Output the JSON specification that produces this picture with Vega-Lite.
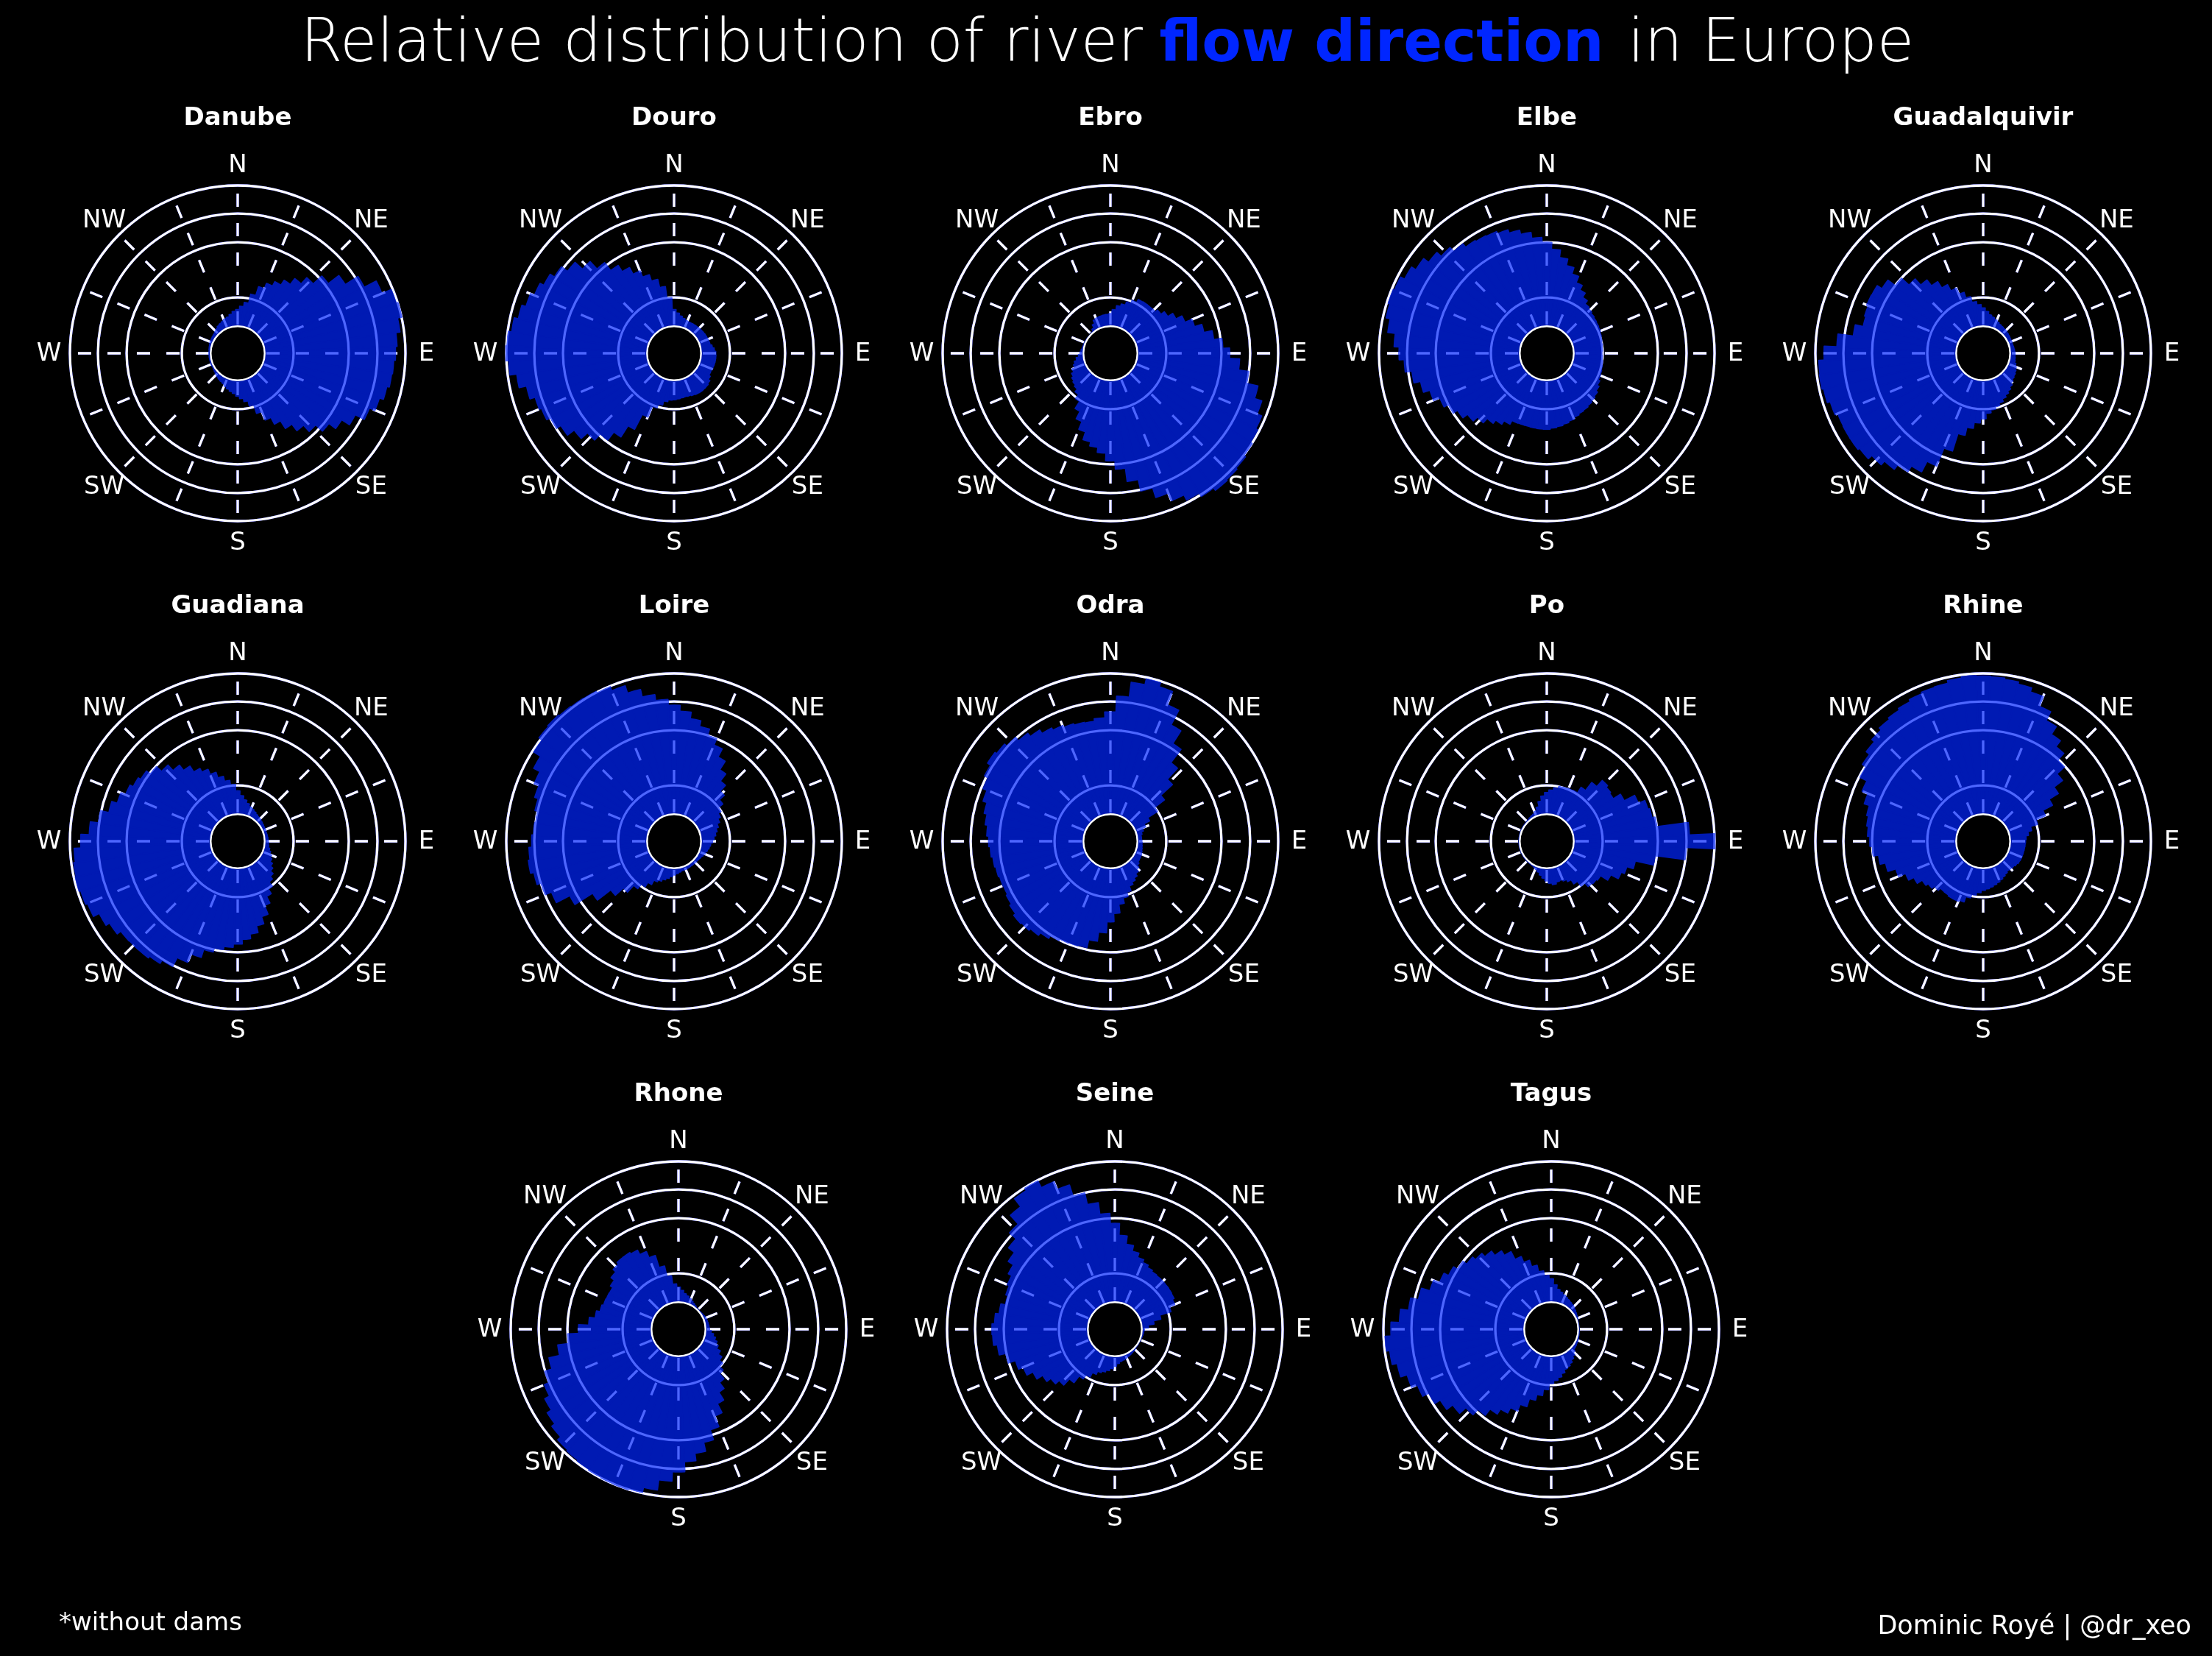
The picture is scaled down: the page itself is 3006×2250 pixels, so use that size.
{
"$schema":"https://vega.github.io/schema/vega-lite/v6.json",
"background":"black",
"padding":{"left":43,"top":0,"right":28,"bottom":21},
"config":{"view":{"stroke":null},"font":"DejaVu Sans","title":{"color":"white","fontSize":34,"fontWeight":"bold","baseline":"alphabetic","offset":23,"anchor":"middle"}},
"datasets":{
"rings":[{"r":0.333},{"r":0.662},{"r":0.833},{"r":1}],
"hole":[{"r":0.161}],
"dashes":[{"d":0,"a":[0.171,0.346,0.522,0.697,0.873],"b":[0.25,0.425,0.601,0.776,0.952]},{"d":22.5,"a":[0.171,0.346,0.522,0.697,0.873],"b":[0.25,0.425,0.601,0.776,0.952]},{"d":45,"a":[0.171,0.346,0.522,0.697,0.873],"b":[0.25,0.425,0.601,0.776,0.952]},{"d":67.5,"a":[0.171,0.346,0.522,0.697,0.873],"b":[0.25,0.425,0.601,0.776,0.952]},{"d":90,"a":[0.171,0.346,0.522,0.697,0.873],"b":[0.25,0.425,0.601,0.776,0.952]},{"d":112.5,"a":[0.171,0.346,0.522,0.697,0.873],"b":[0.25,0.425,0.601,0.776,0.952]},{"d":135,"a":[0.171,0.346,0.522,0.697,0.873],"b":[0.25,0.425,0.601,0.776,0.952]},{"d":157.5,"a":[0.171,0.346,0.522,0.697,0.873],"b":[0.25,0.425,0.601,0.776,0.952]},{"d":180,"a":[0.171,0.346,0.522,0.697,0.873],"b":[0.25,0.425,0.601,0.776,0.952]},{"d":202.5,"a":[0.171,0.346,0.522,0.697,0.873],"b":[0.25,0.425,0.601,0.776,0.952]},{"d":225,"a":[0.171,0.346,0.522,0.697,0.873],"b":[0.25,0.425,0.601,0.776,0.952]},{"d":247.5,"a":[0.171,0.346,0.522,0.697,0.873],"b":[0.25,0.425,0.601,0.776,0.952]},{"d":270,"a":[0.171,0.346,0.522,0.697,0.873],"b":[0.25,0.425,0.601,0.776,0.952]},{"d":292.5,"a":[0.171,0.346,0.522,0.697,0.873],"b":[0.25,0.425,0.601,0.776,0.952]},{"d":315,"a":[0.171,0.346,0.522,0.697,0.873],"b":[0.25,0.425,0.601,0.776,0.952]},{"d":337.5,"a":[0.171,0.346,0.522,0.697,0.873],"b":[0.25,0.425,0.601,0.776,0.952]}],
"labels":[{"l":"N","d":0},{"l":"NE","d":45},{"l":"E","d":90},{"l":"SE","d":135},{"l":"S","d":180},{"l":"SW","d":225},{"l":"W","d":270},{"l":"NW","d":315}],
"danube":[{"d":0,"v":0.26},{"d":5,"v":0.28},{"d":10,"v":0.305},{"d":15,"v":0.36},{"d":20,"v":0.415},{"d":25,"v":0.45},{"d":30,"v":0.48},{"d":35,"v":0.515},{"d":40,"v":0.56},{"d":45,"v":0.61},{"d":50,"v":0.68},{"d":55,"v":0.76},{"d":60,"v":0.85},{"d":65,"v":0.93},{"d":70,"v":0.99},{"d":75,"v":1.0},{"d":80,"v":0.975},{"d":85,"v":0.95},{"d":90,"v":0.94},{"d":95,"v":0.93},{"d":100,"v":0.925},{"d":105,"v":0.91},{"d":110,"v":0.885},{"d":115,"v":0.85},{"d":120,"v":0.79},{"d":125,"v":0.735},{"d":130,"v":0.685},{"d":135,"v":0.63},{"d":140,"v":0.58},{"d":145,"v":0.53},{"d":150,"v":0.475},{"d":155,"v":0.43},{"d":160,"v":0.375},{"d":165,"v":0.32},{"d":170,"v":0.29},{"d":175,"v":0.27},{"d":180,"v":0.255},{"d":185,"v":0.24},{"d":190,"v":0.23},{"d":195,"v":0.22},{"d":200,"v":0.21},{"d":205,"v":0.2},{"d":210,"v":0.195},{"d":215,"v":0.19},{"d":220,"v":0.185},{"d":225,"v":0.18},{"d":230,"v":0.175},{"d":235,"v":0.172},{"d":240,"v":0.17},{"d":245,"v":0.17},{"d":250,"v":0.17},{"d":255,"v":0.17},{"d":260,"v":0.17},{"d":265,"v":0.17},{"d":270,"v":0.17},{"d":275,"v":0.17},{"d":280,"v":0.172},{"d":285,"v":0.173},{"d":290,"v":0.175},{"d":295,"v":0.177},{"d":300,"v":0.178},{"d":305,"v":0.18},{"d":310,"v":0.182},{"d":315,"v":0.186},{"d":320,"v":0.192},{"d":325,"v":0.2},{"d":330,"v":0.205},{"d":335,"v":0.21},{"d":340,"v":0.217},{"d":345,"v":0.223},{"d":350,"v":0.235},{"d":355,"v":0.25}],
"douro":[{"d":0,"v":0.26},{"d":5,"v":0.24},{"d":10,"v":0.225},{"d":15,"v":0.215},{"d":20,"v":0.207},{"d":25,"v":0.205},{"d":30,"v":0.206},{"d":35,"v":0.207},{"d":40,"v":0.208},{"d":45,"v":0.21},{"d":50,"v":0.212},{"d":55,"v":0.214},{"d":60,"v":0.216},{"d":65,"v":0.217},{"d":70,"v":0.219},{"d":75,"v":0.22},{"d":80,"v":0.23},{"d":85,"v":0.24},{"d":90,"v":0.248},{"d":95,"v":0.249},{"d":100,"v":0.249},{"d":105,"v":0.248},{"d":110,"v":0.246},{"d":115,"v":0.243},{"d":120,"v":0.244},{"d":125,"v":0.255},{"d":130,"v":0.268},{"d":135,"v":0.275},{"d":140,"v":0.277},{"d":145,"v":0.278},{"d":150,"v":0.276},{"d":155,"v":0.272},{"d":160,"v":0.268},{"d":165,"v":0.266},{"d":170,"v":0.268},{"d":175,"v":0.272},{"d":180,"v":0.276},{"d":185,"v":0.279},{"d":190,"v":0.29},{"d":195,"v":0.315},{"d":200,"v":0.34},{"d":205,"v":0.41},{"d":210,"v":0.51},{"d":215,"v":0.59},{"d":220,"v":0.65},{"d":225,"v":0.7},{"d":230,"v":0.75},{"d":235,"v":0.8},{"d":240,"v":0.83},{"d":245,"v":0.855},{"d":250,"v":0.868},{"d":255,"v":0.9},{"d":260,"v":0.945},{"d":265,"v":0.985},{"d":270,"v":1.0},{"d":275,"v":0.995},{"d":280,"v":0.975},{"d":285,"v":0.95},{"d":290,"v":0.925},{"d":295,"v":0.9},{"d":300,"v":0.875},{"d":305,"v":0.845},{"d":310,"v":0.8},{"d":315,"v":0.74},{"d":320,"v":0.68},{"d":325,"v":0.62},{"d":330,"v":0.575},{"d":335,"v":0.53},{"d":340,"v":0.49},{"d":345,"v":0.45},{"d":350,"v":0.4},{"d":355,"v":0.33}],
"ebro":[{"d":0,"v":0.235},{"d":5,"v":0.26},{"d":10,"v":0.285},{"d":15,"v":0.3},{"d":20,"v":0.32},{"d":25,"v":0.34},{"d":30,"v":0.36},{"d":35,"v":0.362},{"d":40,"v":0.362},{"d":45,"v":0.363},{"d":50,"v":0.38},{"d":55,"v":0.405},{"d":60,"v":0.44},{"d":65,"v":0.48},{"d":70,"v":0.525},{"d":75,"v":0.57},{"d":80,"v":0.62},{"d":85,"v":0.67},{"d":90,"v":0.71},{"d":95,"v":0.77},{"d":100,"v":0.83},{"d":105,"v":0.9},{"d":110,"v":0.945},{"d":115,"v":0.975},{"d":120,"v":0.988},{"d":125,"v":1.0},{"d":130,"v":1.013},{"d":135,"v":1.022},{"d":140,"v":1.028},{"d":145,"v":1.01},{"d":150,"v":0.985},{"d":155,"v":0.95},{"d":160,"v":0.9},{"d":165,"v":0.84},{"d":170,"v":0.77},{"d":175,"v":0.69},{"d":180,"v":0.64},{"d":185,"v":0.595},{"d":190,"v":0.565},{"d":195,"v":0.54},{"d":200,"v":0.49},{"d":205,"v":0.44},{"d":210,"v":0.39},{"d":215,"v":0.34},{"d":220,"v":0.31},{"d":225,"v":0.29},{"d":230,"v":0.28},{"d":235,"v":0.272},{"d":240,"v":0.26},{"d":245,"v":0.245},{"d":250,"v":0.23},{"d":255,"v":0.22},{"d":260,"v":0.205},{"d":265,"v":0.19},{"d":270,"v":0.18},{"d":275,"v":0.175},{"d":280,"v":0.17},{"d":285,"v":0.168},{"d":290,"v":0.166},{"d":295,"v":0.165},{"d":300,"v":0.164},{"d":305,"v":0.163},{"d":310,"v":0.162},{"d":315,"v":0.162},{"d":320,"v":0.165},{"d":325,"v":0.18},{"d":330,"v":0.2},{"d":335,"v":0.22},{"d":340,"v":0.225},{"d":345,"v":0.228},{"d":350,"v":0.23},{"d":355,"v":0.232}],
"elbe":[{"d":0,"v":0.66},{"d":5,"v":0.62},{"d":10,"v":0.575},{"d":15,"v":0.535},{"d":20,"v":0.495},{"d":25,"v":0.455},{"d":30,"v":0.425},{"d":35,"v":0.395},{"d":40,"v":0.372},{"d":45,"v":0.362},{"d":50,"v":0.355},{"d":55,"v":0.35},{"d":60,"v":0.347},{"d":65,"v":0.344},{"d":70,"v":0.34},{"d":75,"v":0.335},{"d":80,"v":0.332},{"d":85,"v":0.33},{"d":90,"v":0.327},{"d":95,"v":0.33},{"d":100,"v":0.334},{"d":105,"v":0.338},{"d":110,"v":0.342},{"d":115,"v":0.344},{"d":120,"v":0.355},{"d":125,"v":0.368},{"d":130,"v":0.38},{"d":135,"v":0.388},{"d":140,"v":0.395},{"d":145,"v":0.402},{"d":150,"v":0.406},{"d":155,"v":0.414},{"d":160,"v":0.424},{"d":165,"v":0.433},{"d":170,"v":0.44},{"d":175,"v":0.446},{"d":180,"v":0.452},{"d":185,"v":0.451},{"d":190,"v":0.449},{"d":195,"v":0.448},{"d":200,"v":0.448},{"d":205,"v":0.45},{"d":210,"v":0.475},{"d":215,"v":0.5},{"d":220,"v":0.525},{"d":225,"v":0.56},{"d":230,"v":0.595},{"d":235,"v":0.63},{"d":240,"v":0.66},{"d":245,"v":0.69},{"d":250,"v":0.73},{"d":255,"v":0.77},{"d":260,"v":0.81},{"d":265,"v":0.85},{"d":270,"v":0.88},{"d":275,"v":0.91},{"d":280,"v":0.955},{"d":285,"v":0.98},{"d":290,"v":0.99},{"d":295,"v":0.982},{"d":300,"v":0.955},{"d":305,"v":0.925},{"d":310,"v":0.888},{"d":315,"v":0.853},{"d":320,"v":0.82},{"d":325,"v":0.795},{"d":330,"v":0.788},{"d":335,"v":0.784},{"d":340,"v":0.77},{"d":345,"v":0.75},{"d":350,"v":0.725},{"d":355,"v":0.69}],
"guadalquivir":[{"d":0,"v":0.27},{"d":5,"v":0.25},{"d":10,"v":0.232},{"d":15,"v":0.222},{"d":20,"v":0.213},{"d":25,"v":0.205},{"d":30,"v":0.198},{"d":35,"v":0.195},{"d":40,"v":0.192},{"d":45,"v":0.19},{"d":50,"v":0.188},{"d":55,"v":0.186},{"d":60,"v":0.184},{"d":65,"v":0.183},{"d":70,"v":0.182},{"d":75,"v":0.183},{"d":80,"v":0.185},{"d":85,"v":0.187},{"d":90,"v":0.189},{"d":95,"v":0.19},{"d":100,"v":0.192},{"d":105,"v":0.195},{"d":110,"v":0.204},{"d":115,"v":0.212},{"d":120,"v":0.22},{"d":125,"v":0.226},{"d":130,"v":0.232},{"d":135,"v":0.24},{"d":140,"v":0.255},{"d":145,"v":0.268},{"d":150,"v":0.28},{"d":155,"v":0.294},{"d":160,"v":0.31},{"d":165,"v":0.326},{"d":170,"v":0.34},{"d":175,"v":0.357},{"d":180,"v":0.39},{"d":185,"v":0.415},{"d":190,"v":0.45},{"d":195,"v":0.5},{"d":200,"v":0.61},{"d":205,"v":0.725},{"d":210,"v":0.795},{"d":215,"v":0.835},{"d":220,"v":0.87},{"d":225,"v":0.9},{"d":230,"v":0.928},{"d":235,"v":0.94},{"d":240,"v":0.94},{"d":245,"v":0.938},{"d":250,"v":0.955},{"d":255,"v":0.973},{"d":260,"v":0.983},{"d":265,"v":0.98},{"d":270,"v":0.948},{"d":275,"v":0.872},{"d":280,"v":0.78},{"d":285,"v":0.732},{"d":290,"v":0.74},{"d":295,"v":0.75},{"d":300,"v":0.748},{"d":305,"v":0.715},{"d":310,"v":0.66},{"d":315,"v":0.6},{"d":320,"v":0.55},{"d":325,"v":0.505},{"d":330,"v":0.46},{"d":335,"v":0.418},{"d":340,"v":0.38},{"d":345,"v":0.345},{"d":350,"v":0.31},{"d":355,"v":0.29}],
"guadiana":[{"d":0,"v":0.3},{"d":5,"v":0.272},{"d":10,"v":0.25},{"d":15,"v":0.232},{"d":20,"v":0.218},{"d":25,"v":0.21},{"d":30,"v":0.202},{"d":35,"v":0.195},{"d":40,"v":0.19},{"d":45,"v":0.187},{"d":50,"v":0.184},{"d":55,"v":0.181},{"d":60,"v":0.179},{"d":65,"v":0.178},{"d":70,"v":0.177},{"d":75,"v":0.178},{"d":80,"v":0.179},{"d":85,"v":0.18},{"d":90,"v":0.181},{"d":95,"v":0.183},{"d":100,"v":0.186},{"d":105,"v":0.195},{"d":110,"v":0.205},{"d":115,"v":0.217},{"d":120,"v":0.228},{"d":125,"v":0.245},{"d":130,"v":0.263},{"d":135,"v":0.285},{"d":140,"v":0.305},{"d":145,"v":0.338},{"d":150,"v":0.37},{"d":155,"v":0.415},{"d":160,"v":0.47},{"d":165,"v":0.515},{"d":170,"v":0.557},{"d":175,"v":0.585},{"d":180,"v":0.612},{"d":185,"v":0.632},{"d":190,"v":0.65},{"d":195,"v":0.675},{"d":200,"v":0.725},{"d":205,"v":0.78},{"d":210,"v":0.84},{"d":215,"v":0.862},{"d":220,"v":0.875},{"d":225,"v":0.876},{"d":230,"v":0.878},{"d":235,"v":0.905},{"d":240,"v":0.93},{"d":245,"v":0.968},{"d":250,"v":0.98},{"d":255,"v":0.99},{"d":260,"v":0.985},{"d":265,"v":0.975},{"d":270,"v":0.935},{"d":275,"v":0.885},{"d":280,"v":0.836},{"d":285,"v":0.786},{"d":290,"v":0.752},{"d":295,"v":0.723},{"d":300,"v":0.702},{"d":305,"v":0.685},{"d":310,"v":0.656},{"d":315,"v":0.615},{"d":320,"v":0.57},{"d":325,"v":0.53},{"d":330,"v":0.488},{"d":335,"v":0.463},{"d":340,"v":0.43},{"d":345,"v":0.395},{"d":350,"v":0.365},{"d":355,"v":0.338}],
"loire":[{"d":0,"v":0.81},{"d":5,"v":0.775},{"d":10,"v":0.735},{"d":15,"v":0.7},{"d":20,"v":0.66},{"d":25,"v":0.62},{"d":30,"v":0.565},{"d":35,"v":0.505},{"d":40,"v":0.452},{"d":45,"v":0.405},{"d":50,"v":0.365},{"d":55,"v":0.33},{"d":60,"v":0.31},{"d":65,"v":0.293},{"d":70,"v":0.276},{"d":75,"v":0.262},{"d":80,"v":0.25},{"d":85,"v":0.238},{"d":90,"v":0.228},{"d":95,"v":0.218},{"d":100,"v":0.212},{"d":105,"v":0.205},{"d":110,"v":0.198},{"d":115,"v":0.192},{"d":120,"v":0.186},{"d":125,"v":0.182},{"d":130,"v":0.179},{"d":135,"v":0.178},{"d":140,"v":0.178},{"d":145,"v":0.178},{"d":150,"v":0.179},{"d":155,"v":0.18},{"d":160,"v":0.18},{"d":165,"v":0.181},{"d":170,"v":0.186},{"d":175,"v":0.193},{"d":180,"v":0.2},{"d":185,"v":0.21},{"d":190,"v":0.222},{"d":195,"v":0.235},{"d":200,"v":0.248},{"d":205,"v":0.26},{"d":210,"v":0.29},{"d":215,"v":0.32},{"d":220,"v":0.355},{"d":225,"v":0.41},{"d":230,"v":0.475},{"d":235,"v":0.575},{"d":240,"v":0.7},{"d":245,"v":0.79},{"d":250,"v":0.83},{"d":255,"v":0.855},{"d":260,"v":0.875},{"d":265,"v":0.865},{"d":270,"v":0.848},{"d":275,"v":0.838},{"d":280,"v":0.831},{"d":285,"v":0.848},{"d":290,"v":0.87},{"d":295,"v":0.9},{"d":300,"v":0.942},{"d":305,"v":0.99},{"d":310,"v":1.013},{"d":315,"v":1.019},{"d":320,"v":1.012},{"d":325,"v":1.008},{"d":330,"v":1.006},{"d":335,"v":0.995},{"d":340,"v":0.97},{"d":345,"v":0.925},{"d":350,"v":0.88},{"d":355,"v":0.845}],
"odra":[{"d":0,"v":0.77},{"d":5,"v":0.865},{"d":10,"v":0.955},{"d":15,"v":0.99},{"d":20,"v":0.965},{"d":25,"v":0.88},{"d":30,"v":0.78},{"d":35,"v":0.69},{"d":40,"v":0.59},{"d":45,"v":0.5},{"d":50,"v":0.405},{"d":55,"v":0.33},{"d":60,"v":0.262},{"d":65,"v":0.225},{"d":70,"v":0.205},{"d":75,"v":0.192},{"d":80,"v":0.185},{"d":85,"v":0.185},{"d":90,"v":0.186},{"d":95,"v":0.188},{"d":100,"v":0.19},{"d":105,"v":0.193},{"d":110,"v":0.197},{"d":115,"v":0.2},{"d":120,"v":0.202},{"d":125,"v":0.204},{"d":130,"v":0.214},{"d":135,"v":0.228},{"d":140,"v":0.244},{"d":145,"v":0.26},{"d":150,"v":0.274},{"d":155,"v":0.289},{"d":160,"v":0.318},{"d":165,"v":0.345},{"d":170,"v":0.378},{"d":175,"v":0.43},{"d":180,"v":0.48},{"d":185,"v":0.545},{"d":190,"v":0.6},{"d":195,"v":0.648},{"d":200,"v":0.652},{"d":205,"v":0.655},{"d":210,"v":0.665},{"d":215,"v":0.685},{"d":220,"v":0.705},{"d":225,"v":0.718},{"d":230,"v":0.725},{"d":235,"v":0.71},{"d":240,"v":0.698},{"d":245,"v":0.69},{"d":250,"v":0.692},{"d":255,"v":0.699},{"d":260,"v":0.706},{"d":265,"v":0.716},{"d":270,"v":0.725},{"d":275,"v":0.737},{"d":280,"v":0.752},{"d":285,"v":0.77},{"d":290,"v":0.795},{"d":295,"v":0.82},{"d":300,"v":0.845},{"d":305,"v":0.867},{"d":310,"v":0.855},{"d":315,"v":0.838},{"d":320,"v":0.81},{"d":325,"v":0.785},{"d":330,"v":0.76},{"d":335,"v":0.745},{"d":340,"v":0.733},{"d":345,"v":0.725},{"d":350,"v":0.72},{"d":355,"v":0.735}],
"po":[{"d":0,"v":0.29},{"d":5,"v":0.305},{"d":10,"v":0.32},{"d":15,"v":0.332},{"d":20,"v":0.335},{"d":25,"v":0.338},{"d":30,"v":0.341},{"d":35,"v":0.38},{"d":40,"v":0.44},{"d":45,"v":0.49},{"d":50,"v":0.478},{"d":55,"v":0.47},{"d":60,"v":0.52},{"d":65,"v":0.59},{"d":70,"v":0.632},{"d":75,"v":0.642},{"d":80,"v":0.66},{"d":85,"v":0.85},{"d":90,"v":1.0},{"d":95,"v":0.83},{"d":100,"v":0.65},{"d":105,"v":0.54},{"d":110,"v":0.5},{"d":115,"v":0.48},{"d":120,"v":0.43},{"d":125,"v":0.38},{"d":130,"v":0.372},{"d":135,"v":0.365},{"d":140,"v":0.335},{"d":145,"v":0.3},{"d":150,"v":0.27},{"d":155,"v":0.255},{"d":160,"v":0.245},{"d":165,"v":0.248},{"d":170,"v":0.26},{"d":175,"v":0.25},{"d":180,"v":0.235},{"d":185,"v":0.22},{"d":190,"v":0.205},{"d":195,"v":0.19},{"d":200,"v":0.178},{"d":205,"v":0.172},{"d":210,"v":0.168},{"d":215,"v":0.166},{"d":220,"v":0.165},{"d":225,"v":0.165},{"d":230,"v":0.165},{"d":235,"v":0.165},{"d":240,"v":0.165},{"d":245,"v":0.165},{"d":250,"v":0.165},{"d":255,"v":0.165},{"d":260,"v":0.165},{"d":265,"v":0.165},{"d":270,"v":0.165},{"d":275,"v":0.165},{"d":280,"v":0.165},{"d":285,"v":0.165},{"d":290,"v":0.165},{"d":295,"v":0.165},{"d":300,"v":0.165},{"d":305,"v":0.165},{"d":310,"v":0.165},{"d":315,"v":0.166},{"d":320,"v":0.168},{"d":325,"v":0.172},{"d":330,"v":0.176},{"d":335,"v":0.18},{"d":340,"v":0.19},{"d":345,"v":0.21},{"d":350,"v":0.24},{"d":355,"v":0.27}],
"rhine":[{"d":0,"v":0.985},{"d":5,"v":0.98},{"d":10,"v":0.972},{"d":15,"v":0.958},{"d":20,"v":0.933},{"d":25,"v":0.87},{"d":30,"v":0.81},{"d":35,"v":0.755},{"d":40,"v":0.71},{"d":45,"v":0.655},{"d":50,"v":0.595},{"d":55,"v":0.53},{"d":60,"v":0.465},{"d":65,"v":0.4},{"d":70,"v":0.34},{"d":75,"v":0.295},{"d":80,"v":0.272},{"d":85,"v":0.256},{"d":90,"v":0.252},{"d":95,"v":0.25},{"d":100,"v":0.249},{"d":105,"v":0.248},{"d":110,"v":0.248},{"d":115,"v":0.248},{"d":120,"v":0.246},{"d":125,"v":0.24},{"d":130,"v":0.234},{"d":135,"v":0.23},{"d":140,"v":0.228},{"d":145,"v":0.235},{"d":150,"v":0.243},{"d":155,"v":0.252},{"d":160,"v":0.26},{"d":165,"v":0.268},{"d":170,"v":0.276},{"d":175,"v":0.284},{"d":180,"v":0.292},{"d":185,"v":0.306},{"d":190,"v":0.322},{"d":195,"v":0.345},{"d":200,"v":0.378},{"d":205,"v":0.386},{"d":210,"v":0.386},{"d":215,"v":0.38},{"d":220,"v":0.378},{"d":225,"v":0.395},{"d":230,"v":0.413},{"d":235,"v":0.43},{"d":240,"v":0.465},{"d":245,"v":0.5},{"d":250,"v":0.545},{"d":255,"v":0.595},{"d":260,"v":0.628},{"d":265,"v":0.66},{"d":270,"v":0.675},{"d":275,"v":0.689},{"d":280,"v":0.699},{"d":285,"v":0.71},{"d":290,"v":0.742},{"d":295,"v":0.78},{"d":300,"v":0.826},{"d":305,"v":0.852},{"d":310,"v":0.877},{"d":315,"v":0.898},{"d":320,"v":0.915},{"d":325,"v":0.926},{"d":330,"v":0.938},{"d":335,"v":0.951},{"d":340,"v":0.96},{"d":345,"v":0.964},{"d":350,"v":0.98},{"d":355,"v":0.988}],
"rhone":[{"d":0,"v":0.25},{"d":5,"v":0.232},{"d":10,"v":0.215},{"d":15,"v":0.205},{"d":20,"v":0.195},{"d":25,"v":0.186},{"d":30,"v":0.178},{"d":35,"v":0.172},{"d":40,"v":0.166},{"d":45,"v":0.164},{"d":50,"v":0.165},{"d":55,"v":0.167},{"d":60,"v":0.17},{"d":65,"v":0.173},{"d":70,"v":0.176},{"d":75,"v":0.178},{"d":80,"v":0.18},{"d":85,"v":0.182},{"d":90,"v":0.184},{"d":95,"v":0.195},{"d":100,"v":0.21},{"d":105,"v":0.225},{"d":110,"v":0.24},{"d":115,"v":0.255},{"d":120,"v":0.28},{"d":125,"v":0.305},{"d":130,"v":0.33},{"d":135,"v":0.36},{"d":140,"v":0.4},{"d":145,"v":0.445},{"d":150,"v":0.5},{"d":155,"v":0.56},{"d":160,"v":0.628},{"d":165,"v":0.69},{"d":170,"v":0.745},{"d":175,"v":0.79},{"d":180,"v":0.85},{"d":185,"v":0.905},{"d":190,"v":0.965},{"d":195,"v":0.995},{"d":200,"v":1.0},{"d":205,"v":0.998},{"d":210,"v":0.995},{"d":215,"v":0.99},{"d":220,"v":0.983},{"d":225,"v":0.975},{"d":230,"v":0.95},{"d":235,"v":0.927},{"d":240,"v":0.897},{"d":245,"v":0.865},{"d":250,"v":0.834},{"d":255,"v":0.79},{"d":260,"v":0.725},{"d":265,"v":0.66},{"d":270,"v":0.595},{"d":275,"v":0.535},{"d":280,"v":0.5},{"d":285,"v":0.478},{"d":290,"v":0.468},{"d":295,"v":0.465},{"d":300,"v":0.463},{"d":305,"v":0.48},{"d":310,"v":0.505},{"d":315,"v":0.527},{"d":320,"v":0.54},{"d":325,"v":0.54},{"d":330,"v":0.53},{"d":335,"v":0.5},{"d":340,"v":0.46},{"d":345,"v":0.385},{"d":350,"v":0.32},{"d":355,"v":0.27}],
"seine":[{"d":0,"v":0.63},{"d":5,"v":0.56},{"d":10,"v":0.51},{"d":15,"v":0.475},{"d":20,"v":0.448},{"d":25,"v":0.43},{"d":30,"v":0.415},{"d":35,"v":0.407},{"d":40,"v":0.404},{"d":45,"v":0.403},{"d":50,"v":0.402},{"d":55,"v":0.4},{"d":60,"v":0.397},{"d":65,"v":0.385},{"d":70,"v":0.35},{"d":75,"v":0.28},{"d":80,"v":0.235},{"d":85,"v":0.2},{"d":90,"v":0.175},{"d":95,"v":0.172},{"d":100,"v":0.17},{"d":105,"v":0.168},{"d":110,"v":0.166},{"d":115,"v":0.165},{"d":120,"v":0.164},{"d":125,"v":0.164},{"d":130,"v":0.165},{"d":135,"v":0.168},{"d":140,"v":0.171},{"d":145,"v":0.174},{"d":150,"v":0.177},{"d":155,"v":0.181},{"d":160,"v":0.185},{"d":165,"v":0.19},{"d":170,"v":0.194},{"d":175,"v":0.205},{"d":180,"v":0.22},{"d":185,"v":0.235},{"d":190,"v":0.248},{"d":195,"v":0.26},{"d":200,"v":0.27},{"d":205,"v":0.29},{"d":210,"v":0.32},{"d":215,"v":0.35},{"d":220,"v":0.4},{"d":225,"v":0.45},{"d":230,"v":0.48},{"d":235,"v":0.51},{"d":240,"v":0.55},{"d":245,"v":0.59},{"d":250,"v":0.62},{"d":255,"v":0.665},{"d":260,"v":0.705},{"d":265,"v":0.728},{"d":270,"v":0.732},{"d":275,"v":0.717},{"d":280,"v":0.695},{"d":285,"v":0.668},{"d":290,"v":0.68},{"d":295,"v":0.692},{"d":300,"v":0.715},{"d":305,"v":0.752},{"d":310,"v":0.797},{"d":315,"v":0.85},{"d":320,"v":0.92},{"d":325,"v":0.98},{"d":330,"v":0.995},{"d":335,"v":0.95},{"d":340,"v":0.9},{"d":345,"v":0.83},{"d":350,"v":0.76},{"d":355,"v":0.69}],
"tagus":[{"d":0,"v":0.3},{"d":5,"v":0.265},{"d":10,"v":0.24},{"d":15,"v":0.228},{"d":20,"v":0.218},{"d":25,"v":0.21},{"d":30,"v":0.203},{"d":35,"v":0.197},{"d":40,"v":0.193},{"d":45,"v":0.188},{"d":50,"v":0.183},{"d":55,"v":0.178},{"d":60,"v":0.174},{"d":65,"v":0.17},{"d":70,"v":0.167},{"d":75,"v":0.165},{"d":80,"v":0.165},{"d":85,"v":0.165},{"d":90,"v":0.165},{"d":95,"v":0.166},{"d":100,"v":0.167},{"d":105,"v":0.168},{"d":110,"v":0.17},{"d":115,"v":0.172},{"d":120,"v":0.174},{"d":125,"v":0.177},{"d":130,"v":0.179},{"d":135,"v":0.19},{"d":140,"v":0.205},{"d":145,"v":0.218},{"d":150,"v":0.232},{"d":155,"v":0.244},{"d":160,"v":0.252},{"d":165,"v":0.27},{"d":170,"v":0.29},{"d":175,"v":0.306},{"d":180,"v":0.322},{"d":185,"v":0.36},{"d":190,"v":0.398},{"d":195,"v":0.432},{"d":200,"v":0.483},{"d":205,"v":0.526},{"d":210,"v":0.562},{"d":215,"v":0.598},{"d":220,"v":0.645},{"d":225,"v":0.69},{"d":230,"v":0.74},{"d":235,"v":0.784},{"d":240,"v":0.822},{"d":245,"v":0.863},{"d":250,"v":0.9},{"d":255,"v":0.94},{"d":260,"v":0.97},{"d":265,"v":0.99},{"d":270,"v":0.955},{"d":275,"v":0.905},{"d":280,"v":0.857},{"d":285,"v":0.81},{"d":290,"v":0.758},{"d":295,"v":0.72},{"d":300,"v":0.69},{"d":305,"v":0.662},{"d":310,"v":0.635},{"d":315,"v":0.612},{"d":320,"v":0.585},{"d":325,"v":0.552},{"d":330,"v":0.52},{"d":335,"v":0.468},{"d":340,"v":0.43},{"d":345,"v":0.39},{"d":350,"v":0.35},{"d":355,"v":0.32}]
},
"spacing":42,
"vconcat":[
{"width":2932,"height":101,"layer":[
{"data":{"values":[{"t":"Relative distribution of river"}]},"mark":{"type":"text","align":"right","baseline":"alphabetic","dx":44,"dy":32.5,"fontSize":82,"fontWeight":300,"fill":"white"},"encoding":{"text":{"field":"t"}}},
{"data":{"values":[{"t":"flow direction"}]},"mark":{"type":"text","align":"center","baseline":"alphabetic","dx":368.5,"dy":32.5,"fontSize":78,"fontWeight":"bold","fill":"#0026ff"},"encoding":{"text":{"field":"t"}}},
{"data":{"values":[{"t":"in Europe"}]},"mark":{"type":"text","align":"left","baseline":"alphabetic","dx":703,"dy":32.5,"fontSize":82,"fontWeight":300,"fill":"white"},"encoding":{"text":{"field":"t"}}}
]},
{"spacing":46,"vconcat":[
{"spacing":33,"hconcat":[
{"width":560,"height":560,"title":"Danube","layer":[
{"data":{"name":"rings"},"mark":{"type":"arc","theta":0,"theta2":6.2832,"filled":false,"stroke":"white","strokeWidth":3.3},"encoding":{"radius":{"field":"r","type":"quantitative","stack":null,"scale":{"type":"linear","domain":[0,1],"range":[0,228],"nice":false}}}},
{"data":{"name":"dashes"},"transform":[{"flatten":["a","b"]}],"mark":{"type":"arc","filled":false,"stroke":"white","strokeWidth":3.3},"encoding":{"theta":{"field":"d","type":"quantitative","scale":{"type":"linear","domain":[0,360],"range":[0,6.283185],"nice":false},"stack":null},"theta2":{"field":"d"},"radius":{"field":"b","type":"quantitative","stack":null,"scale":{"type":"linear","domain":[0,1],"range":[0,228],"nice":false}},"radius2":{"field":"a"}}},
{"data":{"name":"danube"},"mark":{"type":"arc","fill":"#001ab3","stroke":"#001ab3","strokeWidth":2,"strokeJoin":"round","thetaOffset":-0.0437,"theta2Offset":0.0437},"encoding":{"theta":{"field":"d","type":"quantitative","scale":{"type":"linear","domain":[0,360],"range":[0,6.283185],"nice":false},"stack":null},"theta2":{"field":"d"},"radius":{"field":"v","type":"quantitative","stack":null,"scale":{"type":"linear","domain":[0,1],"range":[0,228],"nice":false}}}},
{"data":{"name":"rings"},"mark":{"type":"arc","theta":0,"theta2":6.2832,"filled":false,"stroke":"#4d66ff","strokeWidth":3.3,"blend":"lighten"},"encoding":{"radius":{"field":"r","type":"quantitative","stack":null,"scale":{"type":"linear","domain":[0,1],"range":[0,228],"nice":false}}}},
{"data":{"name":"dashes"},"transform":[{"flatten":["a","b"]}],"mark":{"type":"arc","filled":false,"stroke":"#4d66ff","strokeWidth":3.3,"blend":"lighten"},"encoding":{"theta":{"field":"d","type":"quantitative","scale":{"type":"linear","domain":[0,360],"range":[0,6.283185],"nice":false},"stack":null},"theta2":{"field":"d"},"radius":{"field":"b","type":"quantitative","stack":null,"scale":{"type":"linear","domain":[0,1],"range":[0,228],"nice":false}},"radius2":{"field":"a"}}},
{"data":{"name":"hole"},"mark":{"type":"arc","theta":0,"theta2":6.2832,"fill":"black","stroke":"white","strokeWidth":2.4},"encoding":{"radius":{"field":"r","type":"quantitative","stack":null,"scale":{"type":"linear","domain":[0,1],"range":[0,228],"nice":false}}}},
{"data":{"name":"labels"},"mark":{"type":"text","fontSize":34,"fontWeight":"normal","fill":"white","align":"center","baseline":"middle"},"encoding":{"text":{"field":"l"},"theta":{"field":"d","type":"quantitative","scale":{"type":"linear","domain":[0,360],"range":[0,6.283185],"nice":false},"stack":null},"radius":{"datum":1.125,"type":"quantitative","stack":null,"scale":{"type":"linear","domain":[0,1],"range":[0,228],"nice":false}}}}
]},
{"width":560,"height":560,"title":"Douro","layer":[
{"data":{"name":"rings"},"mark":{"type":"arc","theta":0,"theta2":6.2832,"filled":false,"stroke":"white","strokeWidth":3.3},"encoding":{"radius":{"field":"r","type":"quantitative","stack":null,"scale":{"type":"linear","domain":[0,1],"range":[0,228],"nice":false}}}},
{"data":{"name":"dashes"},"transform":[{"flatten":["a","b"]}],"mark":{"type":"arc","filled":false,"stroke":"white","strokeWidth":3.3},"encoding":{"theta":{"field":"d","type":"quantitative","scale":{"type":"linear","domain":[0,360],"range":[0,6.283185],"nice":false},"stack":null},"theta2":{"field":"d"},"radius":{"field":"b","type":"quantitative","stack":null,"scale":{"type":"linear","domain":[0,1],"range":[0,228],"nice":false}},"radius2":{"field":"a"}}},
{"data":{"name":"douro"},"mark":{"type":"arc","fill":"#001ab3","stroke":"#001ab3","strokeWidth":2,"strokeJoin":"round","thetaOffset":-0.0437,"theta2Offset":0.0437},"encoding":{"theta":{"field":"d","type":"quantitative","scale":{"type":"linear","domain":[0,360],"range":[0,6.283185],"nice":false},"stack":null},"theta2":{"field":"d"},"radius":{"field":"v","type":"quantitative","stack":null,"scale":{"type":"linear","domain":[0,1],"range":[0,228],"nice":false}}}},
{"data":{"name":"rings"},"mark":{"type":"arc","theta":0,"theta2":6.2832,"filled":false,"stroke":"#4d66ff","strokeWidth":3.3,"blend":"lighten"},"encoding":{"radius":{"field":"r","type":"quantitative","stack":null,"scale":{"type":"linear","domain":[0,1],"range":[0,228],"nice":false}}}},
{"data":{"name":"dashes"},"transform":[{"flatten":["a","b"]}],"mark":{"type":"arc","filled":false,"stroke":"#4d66ff","strokeWidth":3.3,"blend":"lighten"},"encoding":{"theta":{"field":"d","type":"quantitative","scale":{"type":"linear","domain":[0,360],"range":[0,6.283185],"nice":false},"stack":null},"theta2":{"field":"d"},"radius":{"field":"b","type":"quantitative","stack":null,"scale":{"type":"linear","domain":[0,1],"range":[0,228],"nice":false}},"radius2":{"field":"a"}}},
{"data":{"name":"hole"},"mark":{"type":"arc","theta":0,"theta2":6.2832,"fill":"black","stroke":"white","strokeWidth":2.4},"encoding":{"radius":{"field":"r","type":"quantitative","stack":null,"scale":{"type":"linear","domain":[0,1],"range":[0,228],"nice":false}}}},
{"data":{"name":"labels"},"mark":{"type":"text","fontSize":34,"fontWeight":"normal","fill":"white","align":"center","baseline":"middle"},"encoding":{"text":{"field":"l"},"theta":{"field":"d","type":"quantitative","scale":{"type":"linear","domain":[0,360],"range":[0,6.283185],"nice":false},"stack":null},"radius":{"datum":1.125,"type":"quantitative","stack":null,"scale":{"type":"linear","domain":[0,1],"range":[0,228],"nice":false}}}}
]},
{"width":560,"height":560,"title":"Ebro","layer":[
{"data":{"name":"rings"},"mark":{"type":"arc","theta":0,"theta2":6.2832,"filled":false,"stroke":"white","strokeWidth":3.3},"encoding":{"radius":{"field":"r","type":"quantitative","stack":null,"scale":{"type":"linear","domain":[0,1],"range":[0,228],"nice":false}}}},
{"data":{"name":"dashes"},"transform":[{"flatten":["a","b"]}],"mark":{"type":"arc","filled":false,"stroke":"white","strokeWidth":3.3},"encoding":{"theta":{"field":"d","type":"quantitative","scale":{"type":"linear","domain":[0,360],"range":[0,6.283185],"nice":false},"stack":null},"theta2":{"field":"d"},"radius":{"field":"b","type":"quantitative","stack":null,"scale":{"type":"linear","domain":[0,1],"range":[0,228],"nice":false}},"radius2":{"field":"a"}}},
{"data":{"name":"ebro"},"mark":{"type":"arc","fill":"#001ab3","stroke":"#001ab3","strokeWidth":2,"strokeJoin":"round","thetaOffset":-0.0437,"theta2Offset":0.0437},"encoding":{"theta":{"field":"d","type":"quantitative","scale":{"type":"linear","domain":[0,360],"range":[0,6.283185],"nice":false},"stack":null},"theta2":{"field":"d"},"radius":{"field":"v","type":"quantitative","stack":null,"scale":{"type":"linear","domain":[0,1],"range":[0,228],"nice":false}}}},
{"data":{"name":"rings"},"mark":{"type":"arc","theta":0,"theta2":6.2832,"filled":false,"stroke":"#4d66ff","strokeWidth":3.3,"blend":"lighten"},"encoding":{"radius":{"field":"r","type":"quantitative","stack":null,"scale":{"type":"linear","domain":[0,1],"range":[0,228],"nice":false}}}},
{"data":{"name":"dashes"},"transform":[{"flatten":["a","b"]}],"mark":{"type":"arc","filled":false,"stroke":"#4d66ff","strokeWidth":3.3,"blend":"lighten"},"encoding":{"theta":{"field":"d","type":"quantitative","scale":{"type":"linear","domain":[0,360],"range":[0,6.283185],"nice":false},"stack":null},"theta2":{"field":"d"},"radius":{"field":"b","type":"quantitative","stack":null,"scale":{"type":"linear","domain":[0,1],"range":[0,228],"nice":false}},"radius2":{"field":"a"}}},
{"data":{"name":"hole"},"mark":{"type":"arc","theta":0,"theta2":6.2832,"fill":"black","stroke":"white","strokeWidth":2.4},"encoding":{"radius":{"field":"r","type":"quantitative","stack":null,"scale":{"type":"linear","domain":[0,1],"range":[0,228],"nice":false}}}},
{"data":{"name":"labels"},"mark":{"type":"text","fontSize":34,"fontWeight":"normal","fill":"white","align":"center","baseline":"middle"},"encoding":{"text":{"field":"l"},"theta":{"field":"d","type":"quantitative","scale":{"type":"linear","domain":[0,360],"range":[0,6.283185],"nice":false},"stack":null},"radius":{"datum":1.125,"type":"quantitative","stack":null,"scale":{"type":"linear","domain":[0,1],"range":[0,228],"nice":false}}}}
]},
{"width":560,"height":560,"title":"Elbe","layer":[
{"data":{"name":"rings"},"mark":{"type":"arc","theta":0,"theta2":6.2832,"filled":false,"stroke":"white","strokeWidth":3.3},"encoding":{"radius":{"field":"r","type":"quantitative","stack":null,"scale":{"type":"linear","domain":[0,1],"range":[0,228],"nice":false}}}},
{"data":{"name":"dashes"},"transform":[{"flatten":["a","b"]}],"mark":{"type":"arc","filled":false,"stroke":"white","strokeWidth":3.3},"encoding":{"theta":{"field":"d","type":"quantitative","scale":{"type":"linear","domain":[0,360],"range":[0,6.283185],"nice":false},"stack":null},"theta2":{"field":"d"},"radius":{"field":"b","type":"quantitative","stack":null,"scale":{"type":"linear","domain":[0,1],"range":[0,228],"nice":false}},"radius2":{"field":"a"}}},
{"data":{"name":"elbe"},"mark":{"type":"arc","fill":"#001ab3","stroke":"#001ab3","strokeWidth":2,"strokeJoin":"round","thetaOffset":-0.0437,"theta2Offset":0.0437},"encoding":{"theta":{"field":"d","type":"quantitative","scale":{"type":"linear","domain":[0,360],"range":[0,6.283185],"nice":false},"stack":null},"theta2":{"field":"d"},"radius":{"field":"v","type":"quantitative","stack":null,"scale":{"type":"linear","domain":[0,1],"range":[0,228],"nice":false}}}},
{"data":{"name":"rings"},"mark":{"type":"arc","theta":0,"theta2":6.2832,"filled":false,"stroke":"#4d66ff","strokeWidth":3.3,"blend":"lighten"},"encoding":{"radius":{"field":"r","type":"quantitative","stack":null,"scale":{"type":"linear","domain":[0,1],"range":[0,228],"nice":false}}}},
{"data":{"name":"dashes"},"transform":[{"flatten":["a","b"]}],"mark":{"type":"arc","filled":false,"stroke":"#4d66ff","strokeWidth":3.3,"blend":"lighten"},"encoding":{"theta":{"field":"d","type":"quantitative","scale":{"type":"linear","domain":[0,360],"range":[0,6.283185],"nice":false},"stack":null},"theta2":{"field":"d"},"radius":{"field":"b","type":"quantitative","stack":null,"scale":{"type":"linear","domain":[0,1],"range":[0,228],"nice":false}},"radius2":{"field":"a"}}},
{"data":{"name":"hole"},"mark":{"type":"arc","theta":0,"theta2":6.2832,"fill":"black","stroke":"white","strokeWidth":2.4},"encoding":{"radius":{"field":"r","type":"quantitative","stack":null,"scale":{"type":"linear","domain":[0,1],"range":[0,228],"nice":false}}}},
{"data":{"name":"labels"},"mark":{"type":"text","fontSize":34,"fontWeight":"normal","fill":"white","align":"center","baseline":"middle"},"encoding":{"text":{"field":"l"},"theta":{"field":"d","type":"quantitative","scale":{"type":"linear","domain":[0,360],"range":[0,6.283185],"nice":false},"stack":null},"radius":{"datum":1.125,"type":"quantitative","stack":null,"scale":{"type":"linear","domain":[0,1],"range":[0,228],"nice":false}}}}
]},
{"width":560,"height":560,"title":"Guadalquivir","layer":[
{"data":{"name":"rings"},"mark":{"type":"arc","theta":0,"theta2":6.2832,"filled":false,"stroke":"white","strokeWidth":3.3},"encoding":{"radius":{"field":"r","type":"quantitative","stack":null,"scale":{"type":"linear","domain":[0,1],"range":[0,228],"nice":false}}}},
{"data":{"name":"dashes"},"transform":[{"flatten":["a","b"]}],"mark":{"type":"arc","filled":false,"stroke":"white","strokeWidth":3.3},"encoding":{"theta":{"field":"d","type":"quantitative","scale":{"type":"linear","domain":[0,360],"range":[0,6.283185],"nice":false},"stack":null},"theta2":{"field":"d"},"radius":{"field":"b","type":"quantitative","stack":null,"scale":{"type":"linear","domain":[0,1],"range":[0,228],"nice":false}},"radius2":{"field":"a"}}},
{"data":{"name":"guadalquivir"},"mark":{"type":"arc","fill":"#001ab3","stroke":"#001ab3","strokeWidth":2,"strokeJoin":"round","thetaOffset":-0.0437,"theta2Offset":0.0437},"encoding":{"theta":{"field":"d","type":"quantitative","scale":{"type":"linear","domain":[0,360],"range":[0,6.283185],"nice":false},"stack":null},"theta2":{"field":"d"},"radius":{"field":"v","type":"quantitative","stack":null,"scale":{"type":"linear","domain":[0,1],"range":[0,228],"nice":false}}}},
{"data":{"name":"rings"},"mark":{"type":"arc","theta":0,"theta2":6.2832,"filled":false,"stroke":"#4d66ff","strokeWidth":3.3,"blend":"lighten"},"encoding":{"radius":{"field":"r","type":"quantitative","stack":null,"scale":{"type":"linear","domain":[0,1],"range":[0,228],"nice":false}}}},
{"data":{"name":"dashes"},"transform":[{"flatten":["a","b"]}],"mark":{"type":"arc","filled":false,"stroke":"#4d66ff","strokeWidth":3.3,"blend":"lighten"},"encoding":{"theta":{"field":"d","type":"quantitative","scale":{"type":"linear","domain":[0,360],"range":[0,6.283185],"nice":false},"stack":null},"theta2":{"field":"d"},"radius":{"field":"b","type":"quantitative","stack":null,"scale":{"type":"linear","domain":[0,1],"range":[0,228],"nice":false}},"radius2":{"field":"a"}}},
{"data":{"name":"hole"},"mark":{"type":"arc","theta":0,"theta2":6.2832,"fill":"black","stroke":"white","strokeWidth":2.4},"encoding":{"radius":{"field":"r","type":"quantitative","stack":null,"scale":{"type":"linear","domain":[0,1],"range":[0,228],"nice":false}}}},
{"data":{"name":"labels"},"mark":{"type":"text","fontSize":34,"fontWeight":"normal","fill":"white","align":"center","baseline":"middle"},"encoding":{"text":{"field":"l"},"theta":{"field":"d","type":"quantitative","scale":{"type":"linear","domain":[0,360],"range":[0,6.283185],"nice":false},"stack":null},"radius":{"datum":1.125,"type":"quantitative","stack":null,"scale":{"type":"linear","domain":[0,1],"range":[0,228],"nice":false}}}}
]}
]},
{"spacing":33,"hconcat":[
{"width":560,"height":560,"title":"Guadiana","layer":[
{"data":{"name":"rings"},"mark":{"type":"arc","theta":0,"theta2":6.2832,"filled":false,"stroke":"white","strokeWidth":3.3},"encoding":{"radius":{"field":"r","type":"quantitative","stack":null,"scale":{"type":"linear","domain":[0,1],"range":[0,228],"nice":false}}}},
{"data":{"name":"dashes"},"transform":[{"flatten":["a","b"]}],"mark":{"type":"arc","filled":false,"stroke":"white","strokeWidth":3.3},"encoding":{"theta":{"field":"d","type":"quantitative","scale":{"type":"linear","domain":[0,360],"range":[0,6.283185],"nice":false},"stack":null},"theta2":{"field":"d"},"radius":{"field":"b","type":"quantitative","stack":null,"scale":{"type":"linear","domain":[0,1],"range":[0,228],"nice":false}},"radius2":{"field":"a"}}},
{"data":{"name":"guadiana"},"mark":{"type":"arc","fill":"#001ab3","stroke":"#001ab3","strokeWidth":2,"strokeJoin":"round","thetaOffset":-0.0437,"theta2Offset":0.0437},"encoding":{"theta":{"field":"d","type":"quantitative","scale":{"type":"linear","domain":[0,360],"range":[0,6.283185],"nice":false},"stack":null},"theta2":{"field":"d"},"radius":{"field":"v","type":"quantitative","stack":null,"scale":{"type":"linear","domain":[0,1],"range":[0,228],"nice":false}}}},
{"data":{"name":"rings"},"mark":{"type":"arc","theta":0,"theta2":6.2832,"filled":false,"stroke":"#4d66ff","strokeWidth":3.3,"blend":"lighten"},"encoding":{"radius":{"field":"r","type":"quantitative","stack":null,"scale":{"type":"linear","domain":[0,1],"range":[0,228],"nice":false}}}},
{"data":{"name":"dashes"},"transform":[{"flatten":["a","b"]}],"mark":{"type":"arc","filled":false,"stroke":"#4d66ff","strokeWidth":3.3,"blend":"lighten"},"encoding":{"theta":{"field":"d","type":"quantitative","scale":{"type":"linear","domain":[0,360],"range":[0,6.283185],"nice":false},"stack":null},"theta2":{"field":"d"},"radius":{"field":"b","type":"quantitative","stack":null,"scale":{"type":"linear","domain":[0,1],"range":[0,228],"nice":false}},"radius2":{"field":"a"}}},
{"data":{"name":"hole"},"mark":{"type":"arc","theta":0,"theta2":6.2832,"fill":"black","stroke":"white","strokeWidth":2.4},"encoding":{"radius":{"field":"r","type":"quantitative","stack":null,"scale":{"type":"linear","domain":[0,1],"range":[0,228],"nice":false}}}},
{"data":{"name":"labels"},"mark":{"type":"text","fontSize":34,"fontWeight":"normal","fill":"white","align":"center","baseline":"middle"},"encoding":{"text":{"field":"l"},"theta":{"field":"d","type":"quantitative","scale":{"type":"linear","domain":[0,360],"range":[0,6.283185],"nice":false},"stack":null},"radius":{"datum":1.125,"type":"quantitative","stack":null,"scale":{"type":"linear","domain":[0,1],"range":[0,228],"nice":false}}}}
]},
{"width":560,"height":560,"title":"Loire","layer":[
{"data":{"name":"rings"},"mark":{"type":"arc","theta":0,"theta2":6.2832,"filled":false,"stroke":"white","strokeWidth":3.3},"encoding":{"radius":{"field":"r","type":"quantitative","stack":null,"scale":{"type":"linear","domain":[0,1],"range":[0,228],"nice":false}}}},
{"data":{"name":"dashes"},"transform":[{"flatten":["a","b"]}],"mark":{"type":"arc","filled":false,"stroke":"white","strokeWidth":3.3},"encoding":{"theta":{"field":"d","type":"quantitative","scale":{"type":"linear","domain":[0,360],"range":[0,6.283185],"nice":false},"stack":null},"theta2":{"field":"d"},"radius":{"field":"b","type":"quantitative","stack":null,"scale":{"type":"linear","domain":[0,1],"range":[0,228],"nice":false}},"radius2":{"field":"a"}}},
{"data":{"name":"loire"},"mark":{"type":"arc","fill":"#001ab3","stroke":"#001ab3","strokeWidth":2,"strokeJoin":"round","thetaOffset":-0.0437,"theta2Offset":0.0437},"encoding":{"theta":{"field":"d","type":"quantitative","scale":{"type":"linear","domain":[0,360],"range":[0,6.283185],"nice":false},"stack":null},"theta2":{"field":"d"},"radius":{"field":"v","type":"quantitative","stack":null,"scale":{"type":"linear","domain":[0,1],"range":[0,228],"nice":false}}}},
{"data":{"name":"rings"},"mark":{"type":"arc","theta":0,"theta2":6.2832,"filled":false,"stroke":"#4d66ff","strokeWidth":3.3,"blend":"lighten"},"encoding":{"radius":{"field":"r","type":"quantitative","stack":null,"scale":{"type":"linear","domain":[0,1],"range":[0,228],"nice":false}}}},
{"data":{"name":"dashes"},"transform":[{"flatten":["a","b"]}],"mark":{"type":"arc","filled":false,"stroke":"#4d66ff","strokeWidth":3.3,"blend":"lighten"},"encoding":{"theta":{"field":"d","type":"quantitative","scale":{"type":"linear","domain":[0,360],"range":[0,6.283185],"nice":false},"stack":null},"theta2":{"field":"d"},"radius":{"field":"b","type":"quantitative","stack":null,"scale":{"type":"linear","domain":[0,1],"range":[0,228],"nice":false}},"radius2":{"field":"a"}}},
{"data":{"name":"hole"},"mark":{"type":"arc","theta":0,"theta2":6.2832,"fill":"black","stroke":"white","strokeWidth":2.4},"encoding":{"radius":{"field":"r","type":"quantitative","stack":null,"scale":{"type":"linear","domain":[0,1],"range":[0,228],"nice":false}}}},
{"data":{"name":"labels"},"mark":{"type":"text","fontSize":34,"fontWeight":"normal","fill":"white","align":"center","baseline":"middle"},"encoding":{"text":{"field":"l"},"theta":{"field":"d","type":"quantitative","scale":{"type":"linear","domain":[0,360],"range":[0,6.283185],"nice":false},"stack":null},"radius":{"datum":1.125,"type":"quantitative","stack":null,"scale":{"type":"linear","domain":[0,1],"range":[0,228],"nice":false}}}}
]},
{"width":560,"height":560,"title":"Odra","layer":[
{"data":{"name":"rings"},"mark":{"type":"arc","theta":0,"theta2":6.2832,"filled":false,"stroke":"white","strokeWidth":3.3},"encoding":{"radius":{"field":"r","type":"quantitative","stack":null,"scale":{"type":"linear","domain":[0,1],"range":[0,228],"nice":false}}}},
{"data":{"name":"dashes"},"transform":[{"flatten":["a","b"]}],"mark":{"type":"arc","filled":false,"stroke":"white","strokeWidth":3.3},"encoding":{"theta":{"field":"d","type":"quantitative","scale":{"type":"linear","domain":[0,360],"range":[0,6.283185],"nice":false},"stack":null},"theta2":{"field":"d"},"radius":{"field":"b","type":"quantitative","stack":null,"scale":{"type":"linear","domain":[0,1],"range":[0,228],"nice":false}},"radius2":{"field":"a"}}},
{"data":{"name":"odra"},"mark":{"type":"arc","fill":"#001ab3","stroke":"#001ab3","strokeWidth":2,"strokeJoin":"round","thetaOffset":-0.0437,"theta2Offset":0.0437},"encoding":{"theta":{"field":"d","type":"quantitative","scale":{"type":"linear","domain":[0,360],"range":[0,6.283185],"nice":false},"stack":null},"theta2":{"field":"d"},"radius":{"field":"v","type":"quantitative","stack":null,"scale":{"type":"linear","domain":[0,1],"range":[0,228],"nice":false}}}},
{"data":{"name":"rings"},"mark":{"type":"arc","theta":0,"theta2":6.2832,"filled":false,"stroke":"#4d66ff","strokeWidth":3.3,"blend":"lighten"},"encoding":{"radius":{"field":"r","type":"quantitative","stack":null,"scale":{"type":"linear","domain":[0,1],"range":[0,228],"nice":false}}}},
{"data":{"name":"dashes"},"transform":[{"flatten":["a","b"]}],"mark":{"type":"arc","filled":false,"stroke":"#4d66ff","strokeWidth":3.3,"blend":"lighten"},"encoding":{"theta":{"field":"d","type":"quantitative","scale":{"type":"linear","domain":[0,360],"range":[0,6.283185],"nice":false},"stack":null},"theta2":{"field":"d"},"radius":{"field":"b","type":"quantitative","stack":null,"scale":{"type":"linear","domain":[0,1],"range":[0,228],"nice":false}},"radius2":{"field":"a"}}},
{"data":{"name":"hole"},"mark":{"type":"arc","theta":0,"theta2":6.2832,"fill":"black","stroke":"white","strokeWidth":2.4},"encoding":{"radius":{"field":"r","type":"quantitative","stack":null,"scale":{"type":"linear","domain":[0,1],"range":[0,228],"nice":false}}}},
{"data":{"name":"labels"},"mark":{"type":"text","fontSize":34,"fontWeight":"normal","fill":"white","align":"center","baseline":"middle"},"encoding":{"text":{"field":"l"},"theta":{"field":"d","type":"quantitative","scale":{"type":"linear","domain":[0,360],"range":[0,6.283185],"nice":false},"stack":null},"radius":{"datum":1.125,"type":"quantitative","stack":null,"scale":{"type":"linear","domain":[0,1],"range":[0,228],"nice":false}}}}
]},
{"width":560,"height":560,"title":"Po","layer":[
{"data":{"name":"rings"},"mark":{"type":"arc","theta":0,"theta2":6.2832,"filled":false,"stroke":"white","strokeWidth":3.3},"encoding":{"radius":{"field":"r","type":"quantitative","stack":null,"scale":{"type":"linear","domain":[0,1],"range":[0,228],"nice":false}}}},
{"data":{"name":"dashes"},"transform":[{"flatten":["a","b"]}],"mark":{"type":"arc","filled":false,"stroke":"white","strokeWidth":3.3},"encoding":{"theta":{"field":"d","type":"quantitative","scale":{"type":"linear","domain":[0,360],"range":[0,6.283185],"nice":false},"stack":null},"theta2":{"field":"d"},"radius":{"field":"b","type":"quantitative","stack":null,"scale":{"type":"linear","domain":[0,1],"range":[0,228],"nice":false}},"radius2":{"field":"a"}}},
{"data":{"name":"po"},"mark":{"type":"arc","fill":"#001ab3","stroke":"#001ab3","strokeWidth":2,"strokeJoin":"round","thetaOffset":-0.0437,"theta2Offset":0.0437},"encoding":{"theta":{"field":"d","type":"quantitative","scale":{"type":"linear","domain":[0,360],"range":[0,6.283185],"nice":false},"stack":null},"theta2":{"field":"d"},"radius":{"field":"v","type":"quantitative","stack":null,"scale":{"type":"linear","domain":[0,1],"range":[0,228],"nice":false}}}},
{"data":{"name":"rings"},"mark":{"type":"arc","theta":0,"theta2":6.2832,"filled":false,"stroke":"#4d66ff","strokeWidth":3.3,"blend":"lighten"},"encoding":{"radius":{"field":"r","type":"quantitative","stack":null,"scale":{"type":"linear","domain":[0,1],"range":[0,228],"nice":false}}}},
{"data":{"name":"dashes"},"transform":[{"flatten":["a","b"]}],"mark":{"type":"arc","filled":false,"stroke":"#4d66ff","strokeWidth":3.3,"blend":"lighten"},"encoding":{"theta":{"field":"d","type":"quantitative","scale":{"type":"linear","domain":[0,360],"range":[0,6.283185],"nice":false},"stack":null},"theta2":{"field":"d"},"radius":{"field":"b","type":"quantitative","stack":null,"scale":{"type":"linear","domain":[0,1],"range":[0,228],"nice":false}},"radius2":{"field":"a"}}},
{"data":{"name":"hole"},"mark":{"type":"arc","theta":0,"theta2":6.2832,"fill":"black","stroke":"white","strokeWidth":2.4},"encoding":{"radius":{"field":"r","type":"quantitative","stack":null,"scale":{"type":"linear","domain":[0,1],"range":[0,228],"nice":false}}}},
{"data":{"name":"labels"},"mark":{"type":"text","fontSize":34,"fontWeight":"normal","fill":"white","align":"center","baseline":"middle"},"encoding":{"text":{"field":"l"},"theta":{"field":"d","type":"quantitative","scale":{"type":"linear","domain":[0,360],"range":[0,6.283185],"nice":false},"stack":null},"radius":{"datum":1.125,"type":"quantitative","stack":null,"scale":{"type":"linear","domain":[0,1],"range":[0,228],"nice":false}}}}
]},
{"width":560,"height":560,"title":"Rhine","layer":[
{"data":{"name":"rings"},"mark":{"type":"arc","theta":0,"theta2":6.2832,"filled":false,"stroke":"white","strokeWidth":3.3},"encoding":{"radius":{"field":"r","type":"quantitative","stack":null,"scale":{"type":"linear","domain":[0,1],"range":[0,228],"nice":false}}}},
{"data":{"name":"dashes"},"transform":[{"flatten":["a","b"]}],"mark":{"type":"arc","filled":false,"stroke":"white","strokeWidth":3.3},"encoding":{"theta":{"field":"d","type":"quantitative","scale":{"type":"linear","domain":[0,360],"range":[0,6.283185],"nice":false},"stack":null},"theta2":{"field":"d"},"radius":{"field":"b","type":"quantitative","stack":null,"scale":{"type":"linear","domain":[0,1],"range":[0,228],"nice":false}},"radius2":{"field":"a"}}},
{"data":{"name":"rhine"},"mark":{"type":"arc","fill":"#001ab3","stroke":"#001ab3","strokeWidth":2,"strokeJoin":"round","thetaOffset":-0.0437,"theta2Offset":0.0437},"encoding":{"theta":{"field":"d","type":"quantitative","scale":{"type":"linear","domain":[0,360],"range":[0,6.283185],"nice":false},"stack":null},"theta2":{"field":"d"},"radius":{"field":"v","type":"quantitative","stack":null,"scale":{"type":"linear","domain":[0,1],"range":[0,228],"nice":false}}}},
{"data":{"name":"rings"},"mark":{"type":"arc","theta":0,"theta2":6.2832,"filled":false,"stroke":"#4d66ff","strokeWidth":3.3,"blend":"lighten"},"encoding":{"radius":{"field":"r","type":"quantitative","stack":null,"scale":{"type":"linear","domain":[0,1],"range":[0,228],"nice":false}}}},
{"data":{"name":"dashes"},"transform":[{"flatten":["a","b"]}],"mark":{"type":"arc","filled":false,"stroke":"#4d66ff","strokeWidth":3.3,"blend":"lighten"},"encoding":{"theta":{"field":"d","type":"quantitative","scale":{"type":"linear","domain":[0,360],"range":[0,6.283185],"nice":false},"stack":null},"theta2":{"field":"d"},"radius":{"field":"b","type":"quantitative","stack":null,"scale":{"type":"linear","domain":[0,1],"range":[0,228],"nice":false}},"radius2":{"field":"a"}}},
{"data":{"name":"hole"},"mark":{"type":"arc","theta":0,"theta2":6.2832,"fill":"black","stroke":"white","strokeWidth":2.4},"encoding":{"radius":{"field":"r","type":"quantitative","stack":null,"scale":{"type":"linear","domain":[0,1],"range":[0,228],"nice":false}}}},
{"data":{"name":"labels"},"mark":{"type":"text","fontSize":34,"fontWeight":"normal","fill":"white","align":"center","baseline":"middle"},"encoding":{"text":{"field":"l"},"theta":{"field":"d","type":"quantitative","scale":{"type":"linear","domain":[0,360],"range":[0,6.283185],"nice":false},"stack":null},"radius":{"datum":1.125,"type":"quantitative","stack":null,"scale":{"type":"linear","domain":[0,1],"range":[0,228],"nice":false}}}}
]}
]},
{"spacing":33,"hconcat":[
{"width":566,"height":560,"data":{"values":[{"t":""}]},"mark":{"type":"text"},"encoding":{"text":{"field":"t"}}},
{"width":560,"height":560,"title":"Rhone","layer":[
{"data":{"name":"rings"},"mark":{"type":"arc","theta":0,"theta2":6.2832,"filled":false,"stroke":"white","strokeWidth":3.3},"encoding":{"radius":{"field":"r","type":"quantitative","stack":null,"scale":{"type":"linear","domain":[0,1],"range":[0,228],"nice":false}}}},
{"data":{"name":"dashes"},"transform":[{"flatten":["a","b"]}],"mark":{"type":"arc","filled":false,"stroke":"white","strokeWidth":3.3},"encoding":{"theta":{"field":"d","type":"quantitative","scale":{"type":"linear","domain":[0,360],"range":[0,6.283185],"nice":false},"stack":null},"theta2":{"field":"d"},"radius":{"field":"b","type":"quantitative","stack":null,"scale":{"type":"linear","domain":[0,1],"range":[0,228],"nice":false}},"radius2":{"field":"a"}}},
{"data":{"name":"rhone"},"mark":{"type":"arc","fill":"#001ab3","stroke":"#001ab3","strokeWidth":2,"strokeJoin":"round","thetaOffset":-0.0437,"theta2Offset":0.0437},"encoding":{"theta":{"field":"d","type":"quantitative","scale":{"type":"linear","domain":[0,360],"range":[0,6.283185],"nice":false},"stack":null},"theta2":{"field":"d"},"radius":{"field":"v","type":"quantitative","stack":null,"scale":{"type":"linear","domain":[0,1],"range":[0,228],"nice":false}}}},
{"data":{"name":"rings"},"mark":{"type":"arc","theta":0,"theta2":6.2832,"filled":false,"stroke":"#4d66ff","strokeWidth":3.3,"blend":"lighten"},"encoding":{"radius":{"field":"r","type":"quantitative","stack":null,"scale":{"type":"linear","domain":[0,1],"range":[0,228],"nice":false}}}},
{"data":{"name":"dashes"},"transform":[{"flatten":["a","b"]}],"mark":{"type":"arc","filled":false,"stroke":"#4d66ff","strokeWidth":3.3,"blend":"lighten"},"encoding":{"theta":{"field":"d","type":"quantitative","scale":{"type":"linear","domain":[0,360],"range":[0,6.283185],"nice":false},"stack":null},"theta2":{"field":"d"},"radius":{"field":"b","type":"quantitative","stack":null,"scale":{"type":"linear","domain":[0,1],"range":[0,228],"nice":false}},"radius2":{"field":"a"}}},
{"data":{"name":"hole"},"mark":{"type":"arc","theta":0,"theta2":6.2832,"fill":"black","stroke":"white","strokeWidth":2.4},"encoding":{"radius":{"field":"r","type":"quantitative","stack":null,"scale":{"type":"linear","domain":[0,1],"range":[0,228],"nice":false}}}},
{"data":{"name":"labels"},"mark":{"type":"text","fontSize":34,"fontWeight":"normal","fill":"white","align":"center","baseline":"middle"},"encoding":{"text":{"field":"l"},"theta":{"field":"d","type":"quantitative","scale":{"type":"linear","domain":[0,360],"range":[0,6.283185],"nice":false},"stack":null},"radius":{"datum":1.125,"type":"quantitative","stack":null,"scale":{"type":"linear","domain":[0,1],"range":[0,228],"nice":false}}}}
]},
{"width":560,"height":560,"title":"Seine","layer":[
{"data":{"name":"rings"},"mark":{"type":"arc","theta":0,"theta2":6.2832,"filled":false,"stroke":"white","strokeWidth":3.3},"encoding":{"radius":{"field":"r","type":"quantitative","stack":null,"scale":{"type":"linear","domain":[0,1],"range":[0,228],"nice":false}}}},
{"data":{"name":"dashes"},"transform":[{"flatten":["a","b"]}],"mark":{"type":"arc","filled":false,"stroke":"white","strokeWidth":3.3},"encoding":{"theta":{"field":"d","type":"quantitative","scale":{"type":"linear","domain":[0,360],"range":[0,6.283185],"nice":false},"stack":null},"theta2":{"field":"d"},"radius":{"field":"b","type":"quantitative","stack":null,"scale":{"type":"linear","domain":[0,1],"range":[0,228],"nice":false}},"radius2":{"field":"a"}}},
{"data":{"name":"seine"},"mark":{"type":"arc","fill":"#001ab3","stroke":"#001ab3","strokeWidth":2,"strokeJoin":"round","thetaOffset":-0.0437,"theta2Offset":0.0437},"encoding":{"theta":{"field":"d","type":"quantitative","scale":{"type":"linear","domain":[0,360],"range":[0,6.283185],"nice":false},"stack":null},"theta2":{"field":"d"},"radius":{"field":"v","type":"quantitative","stack":null,"scale":{"type":"linear","domain":[0,1],"range":[0,228],"nice":false}}}},
{"data":{"name":"rings"},"mark":{"type":"arc","theta":0,"theta2":6.2832,"filled":false,"stroke":"#4d66ff","strokeWidth":3.3,"blend":"lighten"},"encoding":{"radius":{"field":"r","type":"quantitative","stack":null,"scale":{"type":"linear","domain":[0,1],"range":[0,228],"nice":false}}}},
{"data":{"name":"dashes"},"transform":[{"flatten":["a","b"]}],"mark":{"type":"arc","filled":false,"stroke":"#4d66ff","strokeWidth":3.3,"blend":"lighten"},"encoding":{"theta":{"field":"d","type":"quantitative","scale":{"type":"linear","domain":[0,360],"range":[0,6.283185],"nice":false},"stack":null},"theta2":{"field":"d"},"radius":{"field":"b","type":"quantitative","stack":null,"scale":{"type":"linear","domain":[0,1],"range":[0,228],"nice":false}},"radius2":{"field":"a"}}},
{"data":{"name":"hole"},"mark":{"type":"arc","theta":0,"theta2":6.2832,"fill":"black","stroke":"white","strokeWidth":2.4},"encoding":{"radius":{"field":"r","type":"quantitative","stack":null,"scale":{"type":"linear","domain":[0,1],"range":[0,228],"nice":false}}}},
{"data":{"name":"labels"},"mark":{"type":"text","fontSize":34,"fontWeight":"normal","fill":"white","align":"center","baseline":"middle"},"encoding":{"text":{"field":"l"},"theta":{"field":"d","type":"quantitative","scale":{"type":"linear","domain":[0,360],"range":[0,6.283185],"nice":false},"stack":null},"radius":{"datum":1.125,"type":"quantitative","stack":null,"scale":{"type":"linear","domain":[0,1],"range":[0,228],"nice":false}}}}
]},
{"width":560,"height":560,"title":"Tagus","layer":[
{"data":{"name":"rings"},"mark":{"type":"arc","theta":0,"theta2":6.2832,"filled":false,"stroke":"white","strokeWidth":3.3},"encoding":{"radius":{"field":"r","type":"quantitative","stack":null,"scale":{"type":"linear","domain":[0,1],"range":[0,228],"nice":false}}}},
{"data":{"name":"dashes"},"transform":[{"flatten":["a","b"]}],"mark":{"type":"arc","filled":false,"stroke":"white","strokeWidth":3.3},"encoding":{"theta":{"field":"d","type":"quantitative","scale":{"type":"linear","domain":[0,360],"range":[0,6.283185],"nice":false},"stack":null},"theta2":{"field":"d"},"radius":{"field":"b","type":"quantitative","stack":null,"scale":{"type":"linear","domain":[0,1],"range":[0,228],"nice":false}},"radius2":{"field":"a"}}},
{"data":{"name":"tagus"},"mark":{"type":"arc","fill":"#001ab3","stroke":"#001ab3","strokeWidth":2,"strokeJoin":"round","thetaOffset":-0.0437,"theta2Offset":0.0437},"encoding":{"theta":{"field":"d","type":"quantitative","scale":{"type":"linear","domain":[0,360],"range":[0,6.283185],"nice":false},"stack":null},"theta2":{"field":"d"},"radius":{"field":"v","type":"quantitative","stack":null,"scale":{"type":"linear","domain":[0,1],"range":[0,228],"nice":false}}}},
{"data":{"name":"rings"},"mark":{"type":"arc","theta":0,"theta2":6.2832,"filled":false,"stroke":"#4d66ff","strokeWidth":3.3,"blend":"lighten"},"encoding":{"radius":{"field":"r","type":"quantitative","stack":null,"scale":{"type":"linear","domain":[0,1],"range":[0,228],"nice":false}}}},
{"data":{"name":"dashes"},"transform":[{"flatten":["a","b"]}],"mark":{"type":"arc","filled":false,"stroke":"#4d66ff","strokeWidth":3.3,"blend":"lighten"},"encoding":{"theta":{"field":"d","type":"quantitative","scale":{"type":"linear","domain":[0,360],"range":[0,6.283185],"nice":false},"stack":null},"theta2":{"field":"d"},"radius":{"field":"b","type":"quantitative","stack":null,"scale":{"type":"linear","domain":[0,1],"range":[0,228],"nice":false}},"radius2":{"field":"a"}}},
{"data":{"name":"hole"},"mark":{"type":"arc","theta":0,"theta2":6.2832,"fill":"black","stroke":"white","strokeWidth":2.4},"encoding":{"radius":{"field":"r","type":"quantitative","stack":null,"scale":{"type":"linear","domain":[0,1],"range":[0,228],"nice":false}}}},
{"data":{"name":"labels"},"mark":{"type":"text","fontSize":34,"fontWeight":"normal","fill":"white","align":"center","baseline":"middle"},"encoding":{"text":{"field":"l"},"theta":{"field":"d","type":"quantitative","scale":{"type":"linear","domain":[0,360],"range":[0,6.283185],"nice":false},"stack":null},"radius":{"datum":1.125,"type":"quantitative","stack":null,"scale":{"type":"linear","domain":[0,1],"range":[0,228],"nice":false}}}}
]}
]},
{"width":2932,"height":100,"layer":[
{"data":{"values":[{"t":"*without dams"}]},"mark":{"type":"text","align":"left","baseline":"alphabetic","dx":37,"dy":32.7,"fontSize":34,"fill":"white"},"encoding":{"text":{"field":"t"},"x":{"datum":0,"type":"quantitative","scale":{"domain":[0,1],"nice":false},"axis":null}}},
{"data":{"values":[{"t":"Dominic Royé | @dr_xeo"}]},"mark":{"type":"text","align":"right","baseline":"alphabetic","dx":3,"dy":38,"fontSize":35,"fill":"white"},"encoding":{"text":{"field":"t"},"x":{"datum":1,"type":"quantitative","scale":{"domain":[0,1],"nice":false},"axis":null}}}
]}
]}
]
}
